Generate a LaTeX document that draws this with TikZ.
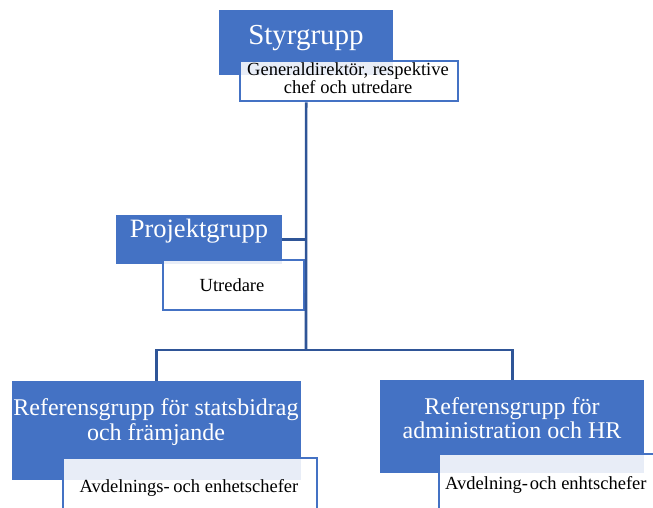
\documentclass[tikz,border=0pt]{standalone}
\usepackage{fontspec}
\setmainfont{Liberation Serif}
\definecolor{accent}{HTML}{4472C4}
\definecolor{connc}{HTML}{2F5597}
\begin{document}
\begin{tikzpicture}[x=1pt,y=-1pt,
  bluebox/.style={fill=accent, draw=none, anchor=north west, inner sep=0pt},
  whitebox/.style={fill=white, fill opacity=0.88, draw=accent, line width=2.4pt, anchor=north west, inner sep=0pt},
  conn/.style={draw=connc, line width=2.6pt},
  bigtxt/.style={text=white, inner sep=0pt, anchor=base},
  smalltxt/.style={text=black, inner sep=0pt, anchor=base, font=\fontsize{18.5}{18}\selectfont}]
\useasboundingbox (0,0) rectangle (653,508);
\clip (0,0) rectangle (653,508);
\coordinate (hub) at (306,350);
% Styrgrupp
\node[bluebox, minimum width=174pt, minimum height=65pt] (styr) at (219,10) {};
\node[whitebox, minimum width=218pt, minimum height=40pt] (styrw) at (239,60) {};
\node[bigtxt, font=\fontsize{29}{31}\selectfont] (styrt) at (306,45) {Styrgrupp};
\node[smalltxt] (styrs1) at (348,76) {Generaldirektör, respektive};
\node[smalltxt] (styrs2) at (348,94) {chef och utredare};
% Projektgrupp
\node[bluebox, minimum width=166pt, minimum height=49pt] (proj) at (116,215) {};
\node[whitebox, minimum width=141pt, minimum height=50pt] (projw) at (162,259) {};
\node[bigtxt, font=\fontsize{26.5}{28}\selectfont] (projt) at (199,237) {Projektgrupp};
\node[smalltxt] (projs) at (232,291) {Utredare};
% Referensgrupp left
\node[bluebox, minimum width=289pt, minimum height=99pt] (refl) at (12,381) {};
\node[whitebox, minimum width=254pt, minimum height=80pt] (reflw) at (62,457) {};
\node[bigtxt, font=\fontsize{24}{25}\selectfont] (reflt1) at (156,415) {Referensgrupp för statsbidrag};
\node[bigtxt, font=\fontsize{24}{25}\selectfont] (reflt2) at (156,440) {och främjande};
\node[smalltxt] (refls) at (189,492) {Avdelnings-\hspace{0.2em}och enhetschefer};
% Referensgrupp right
\node[bluebox, minimum width=264pt, minimum height=93pt] (refr) at (380,380) {};
\node[whitebox, minimum width=270pt, minimum height=80pt] (refrw) at (438,453) {};
\node[bigtxt, font=\fontsize{24}{25}\selectfont] (refrt1) at (512,414) {Referensgrupp för};
\node[bigtxt, font=\fontsize{24}{25}\selectfont] (refrt2) at (512,438) {administration och HR};
\node[smalltxt, anchor=base west] (refrs) at (445,489) {Avdelning-\hspace{0.1em}och enhtschefer};
% connectors
\draw[conn] (styr.south |- styrw.south) -- (hub);
\draw[conn] (proj.east) -- (proj.east -| hub);
\draw[conn] (refl.north) -- (refl.north |- hub) -- (refr.north |- hub) -- (refr.north);
\end{tikzpicture}
\end{document}
